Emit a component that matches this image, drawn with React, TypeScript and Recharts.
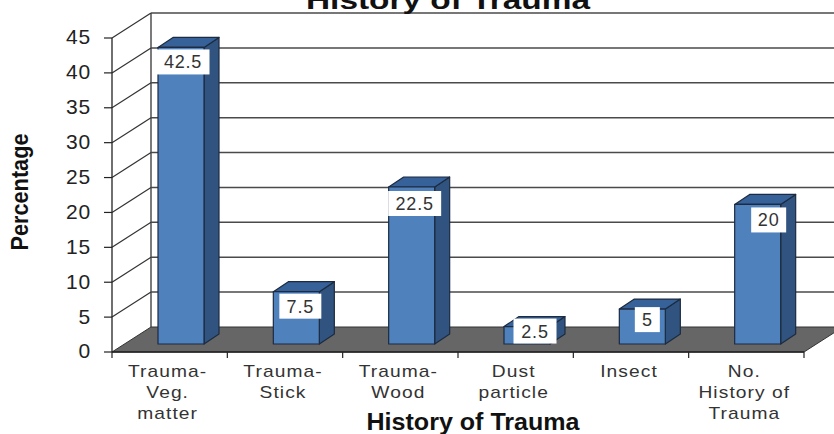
import React from "react";
import { BarChart, Bar, XAxis, YAxis, CartesianGrid, LabelList } from "recharts";

const categories = ["Trauma-\nVeg.\nmatter", "Trauma-\nStick", "Trauma-\nWood", "Dust\nparticle", "Insect", "No.\nHistory of\nTrauma"];
const percentages = [42.5, 7.5, 22.5, 2.5, 5, 20];
const yTicks = [0, 5, 10, 15, 20, 25, 30, 35, 40, 45];
const labelNudgeX = [2, 4, 3, 8, 5, 11];
const labelNudgeY = [2, 2, 4, -8, -2, 3];
const labelBoxWidth = [53, 42, 53, 43, 25, 35];

const data = categories.map((name, i) => ({ name, value: percentages[i] }));

const W = 834, H = 434;
const LEFT = 112, TOP = 38, BOTTOM = 82, RIGHT = 30;
const PLOT_H = H - TOP - BOTTOM;
const BAND = (W - LEFT - RIGHT) / categories.length;
const WALL_DX = 39, WALL_DY = -25;
const BAR_DX = 11, BAR_DY = -8;
const DEPTH_DX = 15, DEPTH_DY = -10;
const FONT = "'Liberation Sans', Arial, sans-serif";

function GridLine(props: any) {
  const { x1, x2, y1 } = props;
  const bx1 = x1 + WALL_DX, bx2 = x2 + WALL_DX, by = y1 + WALL_DY;
  const isFloor = y1 >= TOP + PLOT_H - 1;
  return (
    <g>
      {isFloor && (
        <>
          <polygon points={`${x1},${y1} ${bx1},${by} ${bx2},${by} ${x2},${y1}`} fill="#666666" stroke="#333333" strokeWidth={1} />
          <line x1={bx1} y1={by} x2={bx1} y2={by - PLOT_H} stroke="#333333" strokeWidth={1.3} />
        </>
      )}
      {!isFloor && <line x1={bx1} y1={by} x2={bx2} y2={by} stroke="#4a4a4a" strokeWidth={1.5} />}
      {!isFloor && <line x1={x1} y1={y1} x2={bx1} y2={by} stroke="#333333" strokeWidth={1.2} />}
    </g>
  );
}

function Bar3D(props: any) {
  const { x, y, width, height } = props;
  const fx = x + BAR_DX, fy = y + BAR_DY;
  const r = fx + width, b = fy + height;
  return (
    <g stroke="#1c2b40" strokeWidth={1.2} strokeLinejoin="round">
      <polygon points={`${r},${fy} ${r + DEPTH_DX},${fy + DEPTH_DY} ${r + DEPTH_DX},${b + DEPTH_DY} ${r},${b}`} fill="#30547f" />
      <polygon points={`${fx},${fy} ${fx + DEPTH_DX},${fy + DEPTH_DY} ${r + DEPTH_DX},${fy + DEPTH_DY} ${r},${fy}`} fill="#366199" />
      <rect x={fx} y={fy} width={width} height={height} fill="#4f81bd" />
    </g>
  );
}

function ValueLabel(props: any) {
  const { x, y, width, value, index } = props;
  const cx = x + BAR_DX + width / 2 + labelNudgeX[index];
  const top = y + BAR_DY + labelNudgeY[index];
  const w = labelBoxWidth[index];
  return (
    <g>
      <rect x={cx - w / 2} y={top} width={w} height={25} fill="#ffffff" />
      <text x={cx} y={top + 19} textAnchor="middle" fontFamily={FONT} fontSize={18} letterSpacing={0.8} fill="#333333">
        {value}
      </text>
    </g>
  );
}

function CategoryTick(props: any) {
  const { x, payload, index } = props;
  const lines = String(payload.value).split("\n");
  const axisY = TOP + PLOT_H;
  return (
    <g>
      <line x1={x - BAND / 2} y1={axisY} x2={x - BAND / 2} y2={axisY + 6} stroke="#222222" strokeWidth={1.2} />
      {index === categories.length - 1 && (
        <line x1={x + BAND / 2} y1={axisY} x2={x + BAND / 2} y2={axisY + 6} stroke="#222222" strokeWidth={1.2} />
      )}
      {lines.map((t, i) => (
        <text
          key={i}
          transform={`translate(${x - 2},${axisY + 25 + i * 21}) scale(1.2,1)`}
          textAnchor="middle"
          fontFamily={FONT}
          fontSize={16}
          letterSpacing={0.9}
          fill="#333333"
        >
          {t}
        </text>
      ))}
    </g>
  );
}

export default function App() {
  return (
    <div style={{ position: "absolute", left: 0, top: 0, width: W, height: H, background: "#ffffff", overflow: "hidden" }}>
      <BarChart width={W} height={H} data={data} margin={{ top: TOP, right: RIGHT, bottom: 0, left: 0 }} barSize={46}>
        <CartesianGrid horizontal={GridLine as any} vertical={false} />
        <XAxis dataKey="name" interval={0} height={BOTTOM} tick={CategoryTick as any} tickLine={false} axisLine={{ stroke: "#222222", strokeWidth: 1.3 }} />
        <YAxis
          width={LEFT}
          domain={[0, 45]}
          ticks={yTicks}
          interval={0}
          tickSize={8}
          tickMargin={13}
          tick={{ fontFamily: FONT, fontSize: 21, fill: "#222222", letterSpacing: 0.8, dy: -1 }}
          tickLine={{ stroke: "#222222", strokeWidth: 1.2 }}
          axisLine={{ stroke: "#222222", strokeWidth: 1.3 }}
        />
        <Bar dataKey="value" isAnimationActive={false} shape={Bar3D as any}>
          <LabelList dataKey="value" content={ValueLabel as any} />
        </Bar>
        <text x={448} y={9} textAnchor="middle" fontFamily={FONT} fontWeight="bold" fontSize={26} textLength={284} lengthAdjust="spacingAndGlyphs" fill="#111111">
          History of Trauma
        </text>
        <text x={473} y={430} textAnchor="middle" fontFamily={FONT} fontWeight="bold" fontSize={23} textLength={213} lengthAdjust="spacingAndGlyphs" fill="#111111">
          History of Trauma
        </text>
        <text x={0} y={0} transform="translate(28,192) rotate(-90)" textAnchor="middle" fontFamily={FONT} fontWeight="bold" fontSize={23} textLength={117} lengthAdjust="spacingAndGlyphs" fill="#111111">
          Percentage
        </text>
      </BarChart>
    </div>
  );
}
